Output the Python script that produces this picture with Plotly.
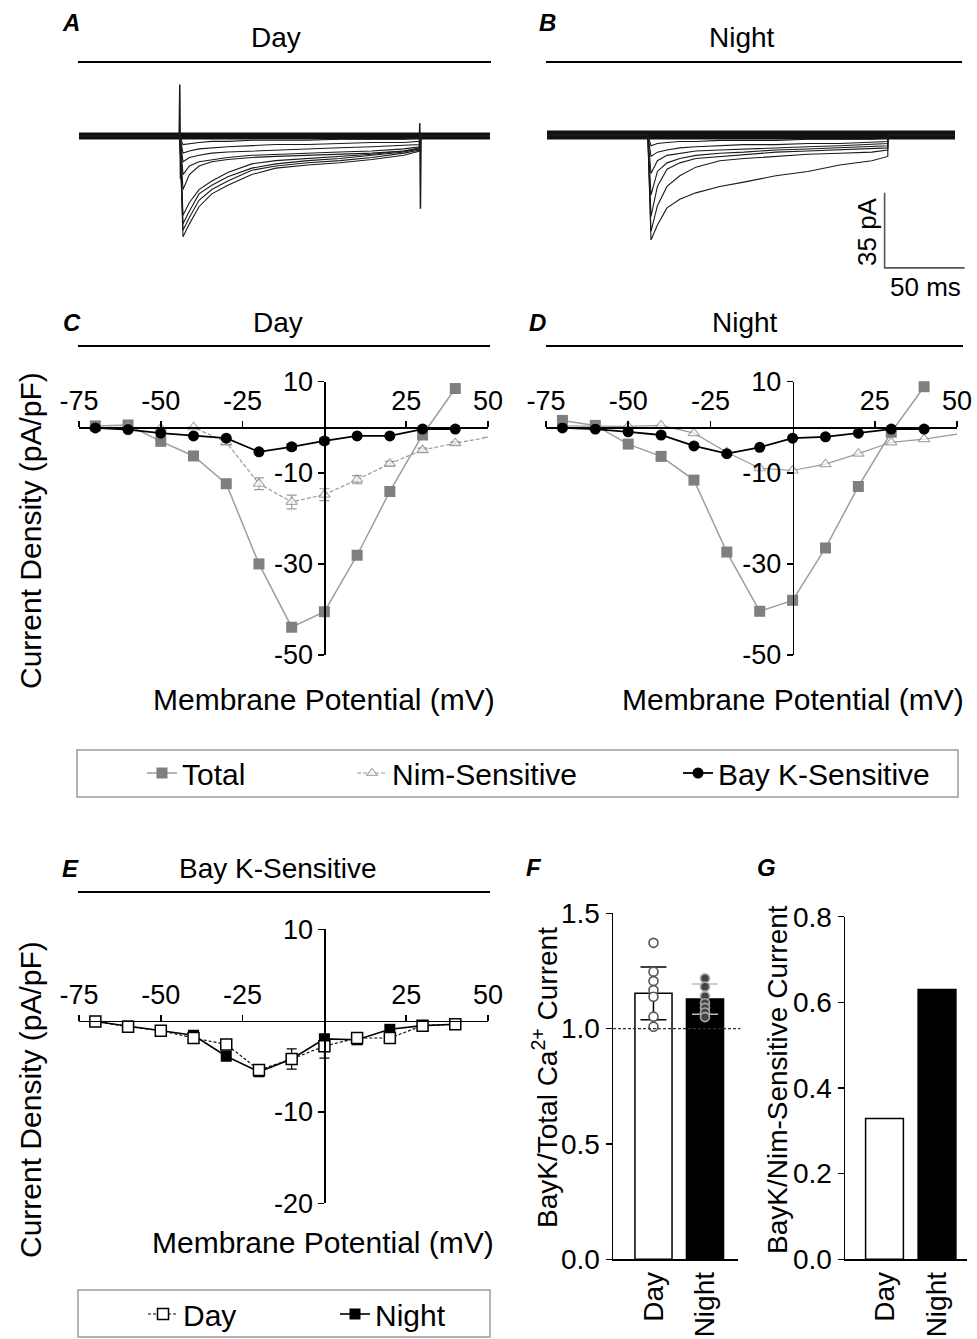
import plotly.graph_objects as go

W, H = 977, 1339
FONT = "Arial, 'Liberation Sans', sans-serif"


def PX(x):
    return x / W


def PY(y):
    return 1 - y / H


# ------------------------------------------------------------------ data
# Panels A/B : example current traces (pA) sampled at times after step onset (ms)
TRACE_T = [0, 2, 6, 12, 20, 30, 45, 60, 80, 100, 120, 140, 150]
DAY_WINDOW = [-63, 194]
NIGHT_WINDOW = [-63, 192]
DAY_TRACES = [
    [0, -47, -41, -33, -27, -23, -18, -15, -13.5, -12.5, -11, -9, -7],
    [0, -44, -38, -30, -25, -21, -16, -14, -12.5, -11.5, -10, -8, -6.5],
    [0, -41, -35, -27, -23, -19, -15, -13, -11.5, -10.5, -9, -7.5, -6],
    [0, -37, -31, -25, -21, -17, -13, -11.5, -10.5, -9.5, -8.5, -7, -5.5],
    [0, -25, -18, -14, -12, -11, -10, -9.5, -9, -8.5, -8, -7, -6],
    [0, -18, -14, -12, -11, -10, -9, -8.5, -8, -7.5, -7, -6, -5],
    [0, -12, -10, -9, -8, -7.5, -7, -6.5, -6, -5.5, -5, -4.5, -4],
    [0, -8, -7, -6, -5.5, -5, -4.5, -4, -4, -3.5, -3, -3, -2.5],
    [0, -4, -3.5, -3, -2.5, -2.5, -2, -2, -2, -1.5, -1.5, -1.5, -1],
]
DAY_ONSET_T = [-0.4, 0, 0.4]
DAY_ONSET_I = [0, 24, -20]
DAY_OFFSET_T = [149.6, 150, 150.4, 150.8]
DAY_OFFSET_I = [-6, 6, -34, 0]
NIGHT_TRACES = [
    [0, -49, -42, -34, -30, -27, -24, -22, -19, -17, -14, -12, -10],
    [0, -45, -33, -24, -19, -15, -12, -11, -10, -9, -8.5, -8, -7],
    [0, -38, -24, -16, -13, -11, -10, -9, -8, -7.5, -7, -6.5, -6],
    [0, -28, -17, -13, -11, -9.5, -8.5, -8, -7, -6.5, -6, -5.5, -5],
    [0, -18, -12, -9.5, -8.5, -7.5, -7, -6.5, -6, -5.5, -5, -4.5, -4],
    [0, -10, -8, -7, -6, -5.5, -5, -4.5, -4.5, -4, -4, -3.5, -3],
    [0, -5, -4, -3.5, -3, -3, -2.5, -2.5, -2.5, -2, -2, -2, -1.5],
]
SCALE_MS = 50
SCALE_PA = 35
SCALE_ORIGIN = (148, -62)

# Panels C/D : I-V relations (pA/pF)
VOLTAGES = [-70, -60, -50, -40, -30, -20, -10, 0, 10, 20, 30, 40]
NIM_VOLTAGES = VOLTAGES + [50]
DAY_TOTAL = [0.3, 0.5, -3.1, -6.3, -12.4, -30.0, -43.9, -40.5, -28.1, -14.1, -1.7, 8.5]
DAY_NIM = [0.0, 0.0, -0.2, 0.0, -3.3, -12.4, -16.4, -14.8, -11.5, -8.0, -5.0, -3.5, -2.2]
DAY_NIM_ERR = [0, 0, 0, 0, 0.5, 1.3, 1.5, 1.3, 0.9, 0.5, 0.4, 0.3, 0]
DAY_BAYK = [-0.15, -0.5, -1.3, -1.9, -2.4, -5.4, -4.3, -3.0, -1.9, -1.9, -0.4, -0.4]
DAY_BAYK_ERR = [0, 0, 0, 0, 0, 0, 0.6, 0.6, 0, 0, 0, 0]
NIGHT_TOTAL = [1.5, 0.4, -3.7, -6.4, -11.6, -27.4, -40.4, -38.0, -26.5, -13.0, -1.1, 8.9]
NIGHT_NIM = [0.3, 0.2, 0.2, 0.4, -1.3, -5.5, -9.0, -9.5, -8.1, -5.8, -3.3, -2.6, -1.5]
NIGHT_BAYK = [-0.15, -0.4, -1.0, -1.7, -4.1, -5.8, -4.4, -2.4, -2.1, -1.3, -0.4, -0.4]

# Panel E : Bay K-sensitive current
E_DAY = [-0.1, -0.66, -1.1, -1.9, -2.6, -5.4, -4.2, -2.8, -1.9, -1.9, -0.55, -0.4]
E_DAY_ERR = [0, 0, 0, 0, 0, 0, 1.1, 1.3, 0.6, 0, 0, 0]
E_NIGHT = [-0.1, -0.6, -1.1, -1.6, -3.9, -5.6, -4.2, -2.0, -2.1, -0.95, -0.55, -0.4]
E_NIGHT_ERR = [0, 0, 0, 0, 0, 0, 0, 0.5, 0, 0.3, 0, 0]

# Panel F / G
GROUPS = ["Day", "Night"]
F_MEAN = [1.153, 1.128]
F_SD = [0.114, 0.066]
F_DAY_PTS = [1.372, 1.247, 1.206, 1.167, 1.138, 1.052, 1.008]
F_NIGHT_PTS = [1.218, 1.182, 1.14, 1.11, 1.09, 1.07, 1.05]
F_REFERENCE = 1.0
G_VALUES = [0.329, 0.630]

IV_XTICKS = [-75, -50, -25, 25, 50]
CD_YTICKS = [10, -10, -30, -50]
E_YTICKS = [10, -10, -20]
F_YTICKS = [0.0, 0.5, 1.0, 1.5]
G_YTICKS = [0.0, 0.2, 0.4, 0.6, 0.8]

# ------------------------------------------------------------------ figure
fig = go.Figure()
TRACE_COLOR = "#1a1a1a"


def add_recordings(traces, window, ax, ay, base_w):
    fig.add_trace(go.Scatter(x=window, y=[0, 0], mode="lines",
                             line=dict(color="#111", width=base_w),
                             xaxis=ax, yaxis=ay, showlegend=False, hoverinfo="skip"))
    for amps in traces:
        xs = [window[0]] + TRACE_T + [TRACE_T[-1], window[1]]
        ys = [0] + amps + [0, 0]
        fig.add_trace(go.Scatter(x=xs, y=ys, mode="lines",
                                 line=dict(color=TRACE_COLOR, width=1.1),
                                 xaxis=ax, yaxis=ay, showlegend=False))


add_recordings(DAY_TRACES, DAY_WINDOW, "x", "y", 7)
fig.add_trace(go.Scatter(x=DAY_ONSET_T, y=DAY_ONSET_I, mode="lines",
                         line=dict(color=TRACE_COLOR, width=1.5),
                         xaxis="x", yaxis="y", showlegend=False))
fig.add_trace(go.Scatter(x=DAY_OFFSET_T, y=DAY_OFFSET_I, mode="lines",
                         line=dict(color=TRACE_COLOR, width=1.5),
                         xaxis="x", yaxis="y", showlegend=False))
add_recordings(NIGHT_TRACES, NIGHT_WINDOW, "x2", "y2", 9)
# scale bar
sx, sy = SCALE_ORIGIN
fig.add_trace(go.Scatter(x=[sx, sx, sx + SCALE_MS], y=[sy + SCALE_PA, sy, sy],
                         mode="lines", line=dict(color="#555", width=1.6),
                         xaxis="x2", yaxis="y2", showlegend=False))

TOTAL_C = "#7f7f7f"
TOTAL_L = "#9e9e9e"
NIM_C = "#9a9a9a"


def add_iv(ax, ay, total, nim, nim_err, bayk, bayk_err, nim_dash, legend):
    fig.add_trace(go.Scatter(
        x=VOLTAGES, y=total, mode="lines+markers", name="Total",
        line=dict(color=TOTAL_L, width=1.5),
        marker=dict(symbol="square", size=11, color=TOTAL_C),
        xaxis=ax, yaxis=ay, showlegend=legend, legend="legend", cliponaxis=False))
    fig.add_trace(go.Scatter(
        x=NIM_VOLTAGES, y=nim, mode="lines+markers", name="Nim-Sensitive",
        line=dict(color=NIM_C, width=1.2, dash=nim_dash),
        marker=dict(symbol="triangle-up", size=[10] * len(VOLTAGES) + [0], color="white",
                    line=dict(color="#888", width=1.2)),
        error_y=dict(type="data", array=nim_err, color=NIM_C, thickness=1.2, width=5)
        if nim_err is not None else None,
        xaxis=ax, yaxis=ay, showlegend=legend, legend="legend2", cliponaxis=False))
    fig.add_trace(go.Scatter(
        x=VOLTAGES, y=bayk, mode="lines+markers", name="Bay K-Sensitive",
        line=dict(color="black", width=1.8),
        marker=dict(symbol="circle", size=11, color="black"),
        error_y=dict(type="data", array=bayk_err, color="black", thickness=1.5, width=5)
        if bayk_err is not None else None,
        xaxis=ax, yaxis=ay, showlegend=legend, legend="legend3", cliponaxis=False))


add_iv("x3", "y3", DAY_TOTAL, DAY_NIM, DAY_NIM_ERR, DAY_BAYK, DAY_BAYK_ERR, "4px,2px", True)
add_iv("x4", "y4", NIGHT_TOTAL, NIGHT_NIM, None, NIGHT_BAYK, None, "solid", False)

# Panel E
fig.add_trace(go.Scatter(
    x=VOLTAGES, y=E_NIGHT, mode="lines+markers", name="Night",
    line=dict(color="black", width=1.6),
    marker=dict(symbol="square", size=11, color="black"),
    error_y=dict(type="data", array=E_NIGHT_ERR, color="black", thickness=1.2, width=5),
    xaxis="x5", yaxis="y5", legend="legend5", cliponaxis=False))
fig.add_trace(go.Scatter(
    x=VOLTAGES, y=E_DAY, mode="lines+markers", name="Day",
    line=dict(color="black", width=1.1, dash="3px,2px"),
    marker=dict(symbol="square", size=11, color="white", line=dict(color="black", width=1.5)),
    error_y=dict(type="data", array=E_DAY_ERR, color="black", thickness=1.2, width=5),
    xaxis="x5", yaxis="y5", legend="legend4", cliponaxis=False))

# Panel F
fig.add_trace(go.Bar(x=[GROUPS[0]], y=[F_MEAN[0]], width=0.72,
                     marker=dict(color="white", opacity=1, line=dict(color="black", width=1.5)),
                     error_y=dict(type="data", array=[F_SD[0]], color="black", thickness=1.5, width=13),
                     xaxis="x6", yaxis="y6", showlegend=False))
fig.add_trace(go.Bar(x=[GROUPS[1]], y=[F_MEAN[1]], width=0.72,
                     marker=dict(color="black", opacity=1, line=dict(color="black", width=1.5)),
                     error_y=dict(type="data", array=[F_SD[1]], color="#bdbdbd", thickness=1.5, width=13),
                     xaxis="x6", yaxis="y6", showlegend=False))
fig.add_trace(go.Scatter(x=[GROUPS[0]] * len(F_DAY_PTS), y=F_DAY_PTS, mode="markers",
                         marker=dict(symbol="circle", size=9, color="white",
                                     line=dict(color="#555", width=1.6)),
                         xaxis="x6", yaxis="y6", showlegend=False, cliponaxis=False))
fig.add_trace(go.Scatter(x=[GROUPS[1]] * len(F_NIGHT_PTS), y=F_NIGHT_PTS, mode="markers",
                         marker=dict(symbol="circle", size=9, color="#444",
                                     line=dict(color="#a8a8a8", width=1.6)),
                         xaxis="x6", yaxis="y6", showlegend=False, cliponaxis=False))

# Panel G
fig.add_trace(go.Bar(x=[GROUPS[0]], y=[G_VALUES[0]], width=0.72,
                     marker=dict(color="white", opacity=1, line=dict(color="black", width=1.5)),
                     xaxis="x7", yaxis="y7", showlegend=False))
fig.add_trace(go.Bar(x=[GROUPS[1]], y=[G_VALUES[1]], width=0.72,
                     marker=dict(color="black", opacity=1, line=dict(color="black", width=1.5)),
                     xaxis="x7", yaxis="y7", showlegend=False))

# ------------------------------------------------------------------ axes
MS_PX = 1.6
PA_PX = 75 / 35


def hidden_axis(dom):
    return dict(domain=dom, visible=False, showgrid=False, zeroline=False, fixedrange=True)


layout = dict(
    width=W, height=H, margin=dict(l=0, r=0, t=0, b=0, pad=0, autoexpand=False),
    paper_bgcolor="white", plot_bgcolor="rgba(0,0,0,0)",
    font=dict(family=FONT, size=27, color="black"),
    barmode="overlay", showlegend=True,
)

# A
a_x0, a_x1, a_base, a_top, a_bot = 79, 490, 136, 70, 280
layout["xaxis"] = hidden_axis([PX(a_x0), PX(a_x1)])
layout["xaxis"].update(range=[DAY_WINDOW[0], DAY_WINDOW[0] + (a_x1 - a_x0) / MS_PX], anchor="y")
layout["yaxis"] = hidden_axis([PY(a_bot), PY(a_top)])
layout["yaxis"].update(range=[-(a_bot - a_base) / PA_PX, (a_base - a_top) / PA_PX], anchor="x")
# B
b_x0, b_x1, b_base, b_top, b_bot = 547, 970, 135, 70, 300
layout["xaxis2"] = hidden_axis([PX(b_x0), PX(b_x1)])
layout["xaxis2"].update(range=[NIGHT_WINDOW[0], NIGHT_WINDOW[0] + (b_x1 - b_x0) / MS_PX], anchor="y2")
layout["yaxis2"] = hidden_axis([PY(b_bot), PY(b_top)])
layout["yaxis2"].update(range=[-(b_bot - b_base) / PA_PX, (b_base - b_top) / PA_PX], anchor="x2")

AX_LINE = dict(showline=True, linecolor="black", linewidth=1.5, showgrid=False,
               zeroline=False, ticks="outside", ticklen=6, tickwidth=1.5, tickcolor="black",
               fixedrange=True)


def iv_axes(n, xpix, ypix, xr, yr, yticks):
    xd = [PX(xpix[0]), PX(xpix[1])]
    yd = [PY(ypix[1]), PY(ypix[0])]
    ypos = ypix[0] + (yr[1] - 0) / (yr[1] - yr[0]) * (ypix[1] - ypix[0])
    xpos = xpix[0] + (0 - xr[0]) / (xr[1] - xr[0]) * (xpix[1] - xpix[0])
    xa = dict(AX_LINE, domain=xd, range=xr, anchor="free", position=PY(ypos), side="top",
              tickvals=IV_XTICKS, ticktext=[str(v) for v in IV_XTICKS],
              tickfont=dict(size=27))
    ya = dict(AX_LINE, domain=yd, range=yr, anchor="free", position=PX(xpos),
              tickvals=yticks, ticktext=[str(v) for v in yticks], tickfont=dict(size=27))
    layout["xaxis%d" % n] = xa
    layout["yaxis%d" % n] = ya


iv_axes(3, (79, 488), (381.7, 655), [-75, 50], [-50, 10], CD_YTICKS)
iv_axes(4, (546, 957), (381.7, 655), [-75, 50], [-50, 10], CD_YTICKS)
iv_axes(5, (79, 488), (929.3, 1203.3), [-75, 50], [-20, 10], E_YTICKS)


def bar_axes(n, xpix, ypix, xr, yr, yticks):
    layout["xaxis%d" % n] = dict(AX_LINE, domain=[PX(xpix[0]), PX(xpix[1])], range=xr,
                                 anchor="y%d" % n, type="category", ticks="",
                                 tickangle=-90, tickfont=dict(size=28))
    layout["yaxis%d" % n] = dict(AX_LINE, domain=[PY(ypix[1]), PY(ypix[0])], range=yr,
                                 anchor="x%d" % n, tickvals=yticks,
                                 ticktext=["%.1f" % v for v in yticks], tickfont=dict(size=28))


bar_axes(6, (613, 738), (913.3, 1259.3), [-0.786, 1.641], [0, 1.5], F_YTICKS)
bar_axes(7, (845, 967), (916.7, 1259.3), [-0.752, 1.571], [0, 0.8], G_YTICKS)

# ------------------------------------------------------------------ legends
def leg(xpix, ypix):
    return dict(x=PX(xpix), y=PY(ypix), xanchor="left", yanchor="middle",
                orientation="h", bgcolor="rgba(0,0,0,0)", borderwidth=0,
                font=dict(size=30, family=FONT))


layout["legend"] = leg(142, 773)
layout["legend2"] = leg(352, 773)
layout["legend3"] = leg(678, 773)
layout["legend4"] = leg(143, 1314)
layout["legend5"] = leg(335, 1314)

# ------------------------------------------------------------------ shapes & text
shapes = []
for (x0, x1, y) in [(78, 491, 62), (546, 962, 62), (78, 490, 346), (546, 963, 346), (78, 490, 892)]:
    shapes.append(dict(type="line", xref="paper", yref="paper", x0=PX(x0), x1=PX(x1),
                       y0=PY(y), y1=PY(y), line=dict(color="black", width=2)))
for (x0, x1, y0, y1) in [(77, 958, 750, 797), (78, 490, 1290, 1337)]:
    shapes.append(dict(type="rect", xref="paper", yref="paper", x0=PX(x0), x1=PX(x1),
                       y0=PY(y1), y1=PY(y0), line=dict(color="#9a9a9a", width=1.5)))
shapes.append(dict(type="line", xref="x6 domain", yref="y6", x0=0, x1=1.02,
                   y0=F_REFERENCE, y1=F_REFERENCE, layer="above",
                   line=dict(color="#333", width=1.3, dash="3px,2px")))
layout["shapes"] = shapes

ann = []


def txt(t, x, y, size=30, angle=0, bold_italic=False):
    if bold_italic:
        t = "<b><i>%s</i></b>" % t
    ann.append(dict(text=t, x=PX(x), y=PY(y), xref="paper", yref="paper",
                    xanchor="center", yanchor="middle", showarrow=False,
                    textangle=angle, font=dict(size=size, family=FONT, color="black")))


for (t, x, y) in [("A", 71, 22), ("B", 547, 22), ("C", 72, 322), ("D", 537, 322),
                  ("E", 70, 868), ("F", 534, 867), ("G", 766, 867)]:
    txt(t, x, y, size=24, bold_italic=True)
txt("Day", 276, 38, size=28)
txt("Night", 742, 38, size=28)
txt("Day", 278, 322, size=28)
txt("Night", 745, 322, size=28)
txt("Bay K-Sensitive", 278, 868, size=28)
txt("Current Density (pA/pF)", 30, 531, angle=-90)
txt("Current Density (pA/pF)", 30, 1100, angle=-90)
txt("Membrane Potential (mV)", 324, 700)
txt("Membrane Potential (mV)", 793, 700)
txt("Membrane Potential (mV)", 323, 1242)
txt("BayK/Total Ca<sup>2+</sup> Current", 545, 1078, size=28, angle=-90)
txt("BayK/Nim-Sensitive Current", 777, 1080, size=28, angle=-90)
txt("35 pA", 867, 232, size=26, angle=-90)
txt("50 ms", 925, 287, size=26)
layout["annotations"] = ann

fig.update_layout(**layout)
fig.write_html(
    "out.html",
    config={"displayModeBar": False, "staticPlot": True},
    post_script="document.body.style.margin='0';document.body.style.overflow='hidden';",
)
